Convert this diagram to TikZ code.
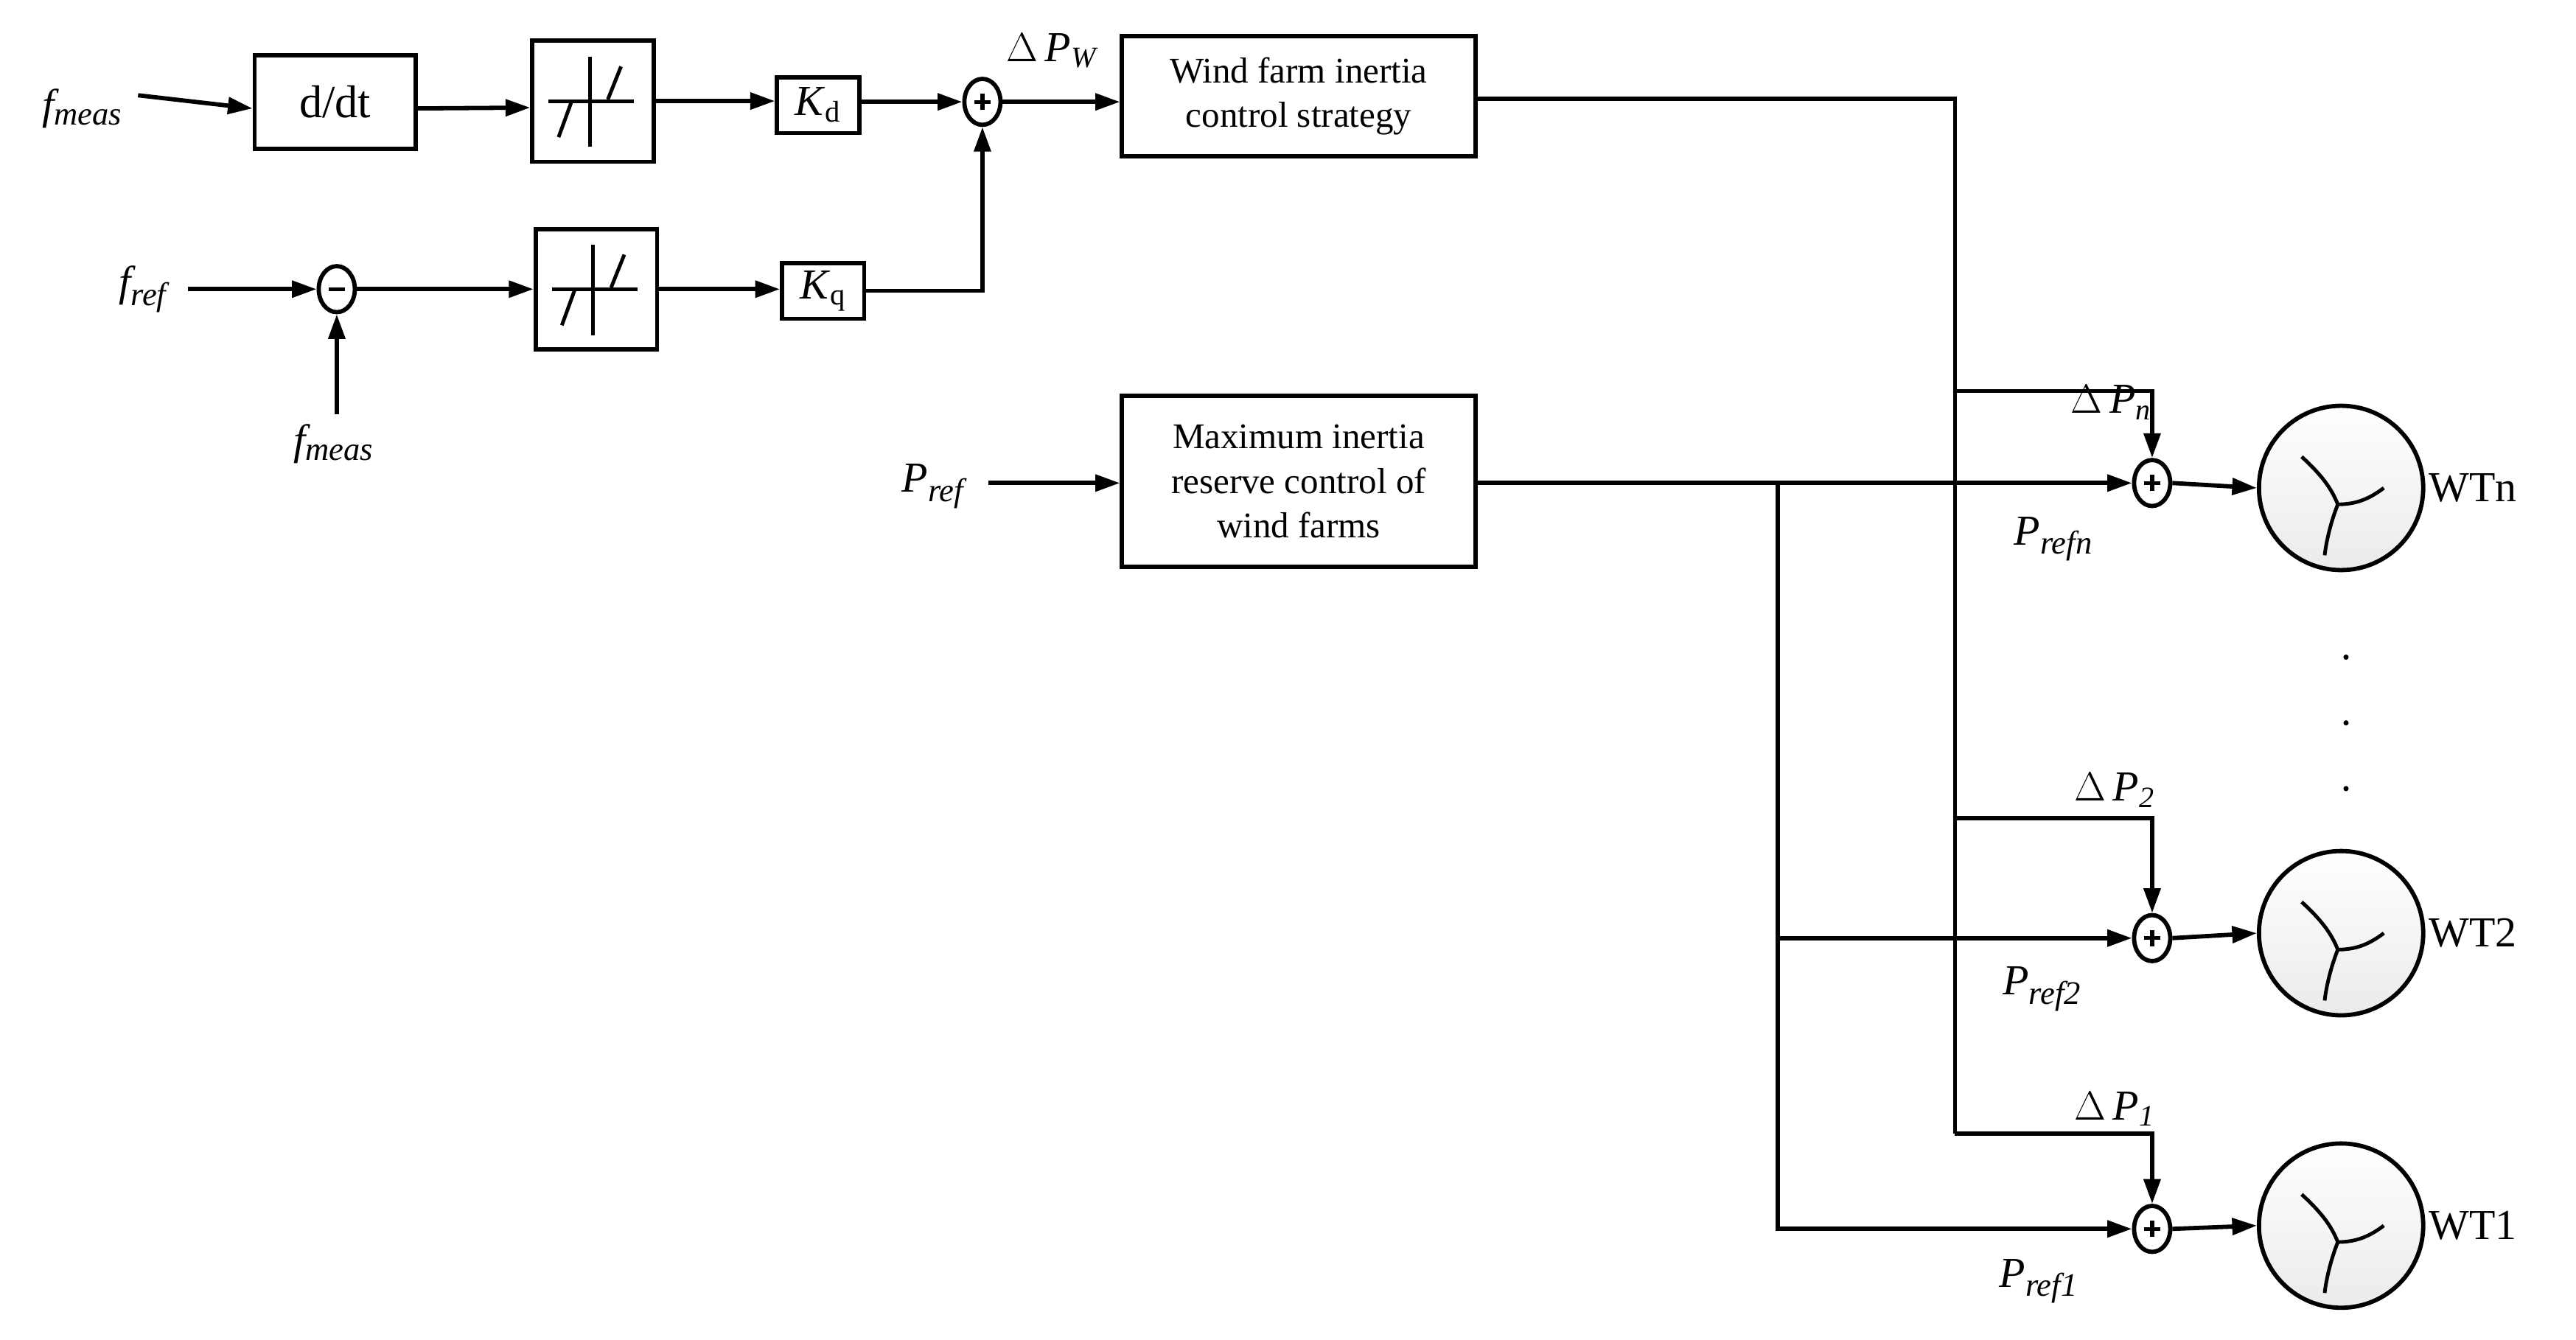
\documentclass[tikz,border=0pt]{standalone}
\usepackage{fontspec}
\setmainfont{Liberation Serif}
\usetikzlibrary{arrows.meta,shapes.geometric}
\begin{document}
\begin{tikzpicture}[x=1pt,y=-1pt,line width=2.6pt,
  arr/.style={-{Triangle[length=15pt,width=10pt]}},
  blk/.style={draw,rectangle,inner sep=0pt},
  sm/.style={draw,ellipse,minimum width=22pt,minimum height=28pt,inner sep=0pt,line width=2.6pt},
  lbl/.style={font=\fontsize{26}{28}\selectfont\itshape},
  txt/.style={font=\fontsize{22}{27}\selectfont,align=center},
  wt/.style={draw,circle,minimum size=100pt,inner sep=0pt,top color=white,bottom color=black!8}]
\useasboundingbox (0,0) rectangle (1568,815.6);
% row 1
\node[lbl] (fm1) at (50,66) {f\textsubscript{\fontsize{20}{20}\selectfont meas}};
\node[blk,minimum width=98pt,minimum height=57pt,font=\fontsize{28}{30}\selectfont] (ddt) at (204,62) {d/dt};
\node[blk,minimum width=74pt,minimum height=74pt] (db1) at (361,61.5) {};
\node[blk,minimum width=50pt,minimum height=34pt,font=\fontsize{26}{28}\selectfont] (kd) at (498,64) {\textit{K}\textsubscript{d}};
\node[sm] (s1) at (598,62) {};
\node[lbl,anchor=south] (dpw) at (640,46) {\upshape$\Delta$\,\itshape P\textsubscript{\fontsize{18}{18}\selectfont W}};
\node[blk,minimum width=215pt,minimum height=73pt,txt] (wf) at (790.5,58.5) {Wind farm inertia\\control strategy};
% row 2
\node[lbl] (fr) at (87,176) {f\textsubscript{\fontsize{20}{20}\selectfont ref}};
\node[sm] (s0) at (205,176) {};
\node[lbl] (fm2) at (203,270) {f\textsubscript{\fontsize{20}{20}\selectfont meas}};
\coordinate (fm2t) at (205,252);
\node[blk,minimum width=74pt,minimum height=73pt] (db2) at (363,176) {};
\node[blk,minimum width=50pt,minimum height=34pt,font=\fontsize{26}{28}\selectfont] (kq) at (501,177) {\textit{K}\textsubscript{q}};
% row 3
\node[lbl] (pr) at (568,296) {P\textsubscript{\fontsize{20}{20}\selectfont ref}};
\node[blk,minimum width=215pt,minimum height=104pt,txt] (mx) at (790.5,293) {Maximum inertia\\reserve control of\\wind farms};
% sums and turbines
\node[sm] (sn) at (1310,294) {};
\node[sm] (s2) at (1310,571) {};
\node[sm] (sa) at (1310,748) {};
\node[wt] (wn) at (1425,297) {};
\node[wt] (w2) at (1425,568) {};
\node[wt] (wa) at (1425,746) {};
\node[font=\fontsize{26}{28}\selectfont,anchor=west] at (1474,297) {WTn};
\node[font=\fontsize{26}{28}\selectfont,anchor=west] at (1474,568) {WT2};
\node[font=\fontsize{26}{28}\selectfont,anchor=west] at (1474,746) {WT1};
\node[lbl,anchor=south] at (1285,260) {\upshape$\Delta$\,\itshape P\textsubscript{\fontsize{18}{18}\selectfont n}};
\node[lbl,anchor=south] at (1287,496) {\upshape$\Delta$\,\itshape P\textsubscript{\fontsize{18}{18}\selectfont 2}};
\node[lbl,anchor=south] at (1287,690) {\upshape$\Delta$\,\itshape P\textsubscript{\fontsize{18}{18}\selectfont 1}};
\node[lbl] at (1250,328) {P\textsubscript{\fontsize{20}{20}\selectfont refn}};
\node[lbl] at (1243,602) {P\textsubscript{\fontsize{20}{20}\selectfont ref2}};
\node[lbl] at (1241,780) {P\textsubscript{\fontsize{20}{20}\selectfont ref1}};
\foreach \yy in {400,440,480} \fill (1428,\yy) circle (1.6pt);
% plus/minus signs
\foreach \n in {s1,sn,s2,sa} {\draw[line width=2.4pt] ([xshift=-5pt]\n.center) -- ([xshift=5pt]\n.center) ([yshift=-5pt]\n.center) -- ([yshift=5pt]\n.center);}
\draw[line width=2.4pt] ([xshift=-5pt]s0.center) -- ([xshift=5pt]s0.center);
% deadband symbols
\foreach \n in {db1,db2} {
 \begin{scope}[shift={(\n.center)},line width=2.2pt]
  \draw (-27,0) -- (25,0) (-2,-27) -- (-2,28);
  \draw (-21,22) -- (-13,0) (9,-1) -- (17,-21);
 \end{scope}}
% turbine blades
\foreach \n in {wn,w2,wa} {
 \begin{scope}[shift={(\n.center)},line width=2.2pt]
  \draw (-24,-19) .. controls (-12,-8) and (-6,0) .. (-2,10);
  \draw (-2,10) .. controls (10,10) and (18,6) .. (26,0);
  \draw (-2,10) .. controls (-6,20) and (-9,32) .. (-10,41);
 \end{scope}}
% connectors
\draw[arr] (fm1.east|-ddt.west) ++(5,-4) -- ([yshift=-4pt]ddt.west);
\draw[arr] ([yshift=-4pt]ddt.east) -- ([yshift=-4pt]db1.west);
\draw[arr] (db1.east) -- (kd.west|-db1.east);
\draw[arr] (kd.east|-s1.west) -- (s1.west);
\draw[arr] (s1.east) -- (wf.west|-s1.east);
\draw[arr] (fr.east) ++(8,0) -- (s0.west);
\draw[arr] (fm2t) -- (s0.south);
\draw[arr] (s0.east) -- (db2.west|-s0.east);
\draw[arr] (db2.east) -- (kq.west|-db2.east);
\draw[arr] (kq.east) -- (598,177) -- (s1.south);
\draw[arr] (pr.east) ++(10,-2) -- (mx.west|-sn.west);
\draw[arr] (mx.east|-sn.west) -- (sn.west);
\draw[arr] (1082,294) -- (1082,748) -- (sa.west);
\draw[arr] (1082,571) -- (s2.west);
\draw (wf.east|-0,60) -- (1190,60) -- (1190,690);
\draw[arr] (1190,238) -- (1310,238) -- (sn.north);
\draw[arr] (1190,498) -- (1310,498) -- (s2.north);
\draw[arr] (1190,690) -- (1310,690) -- (sa.north);
\draw[arr] (sn.east) -- (wn.west);
\draw[arr] (s2.east) -- (w2.west);
\draw[arr] (sa.east) -- (wa.west);
\end{tikzpicture}
\end{document}
